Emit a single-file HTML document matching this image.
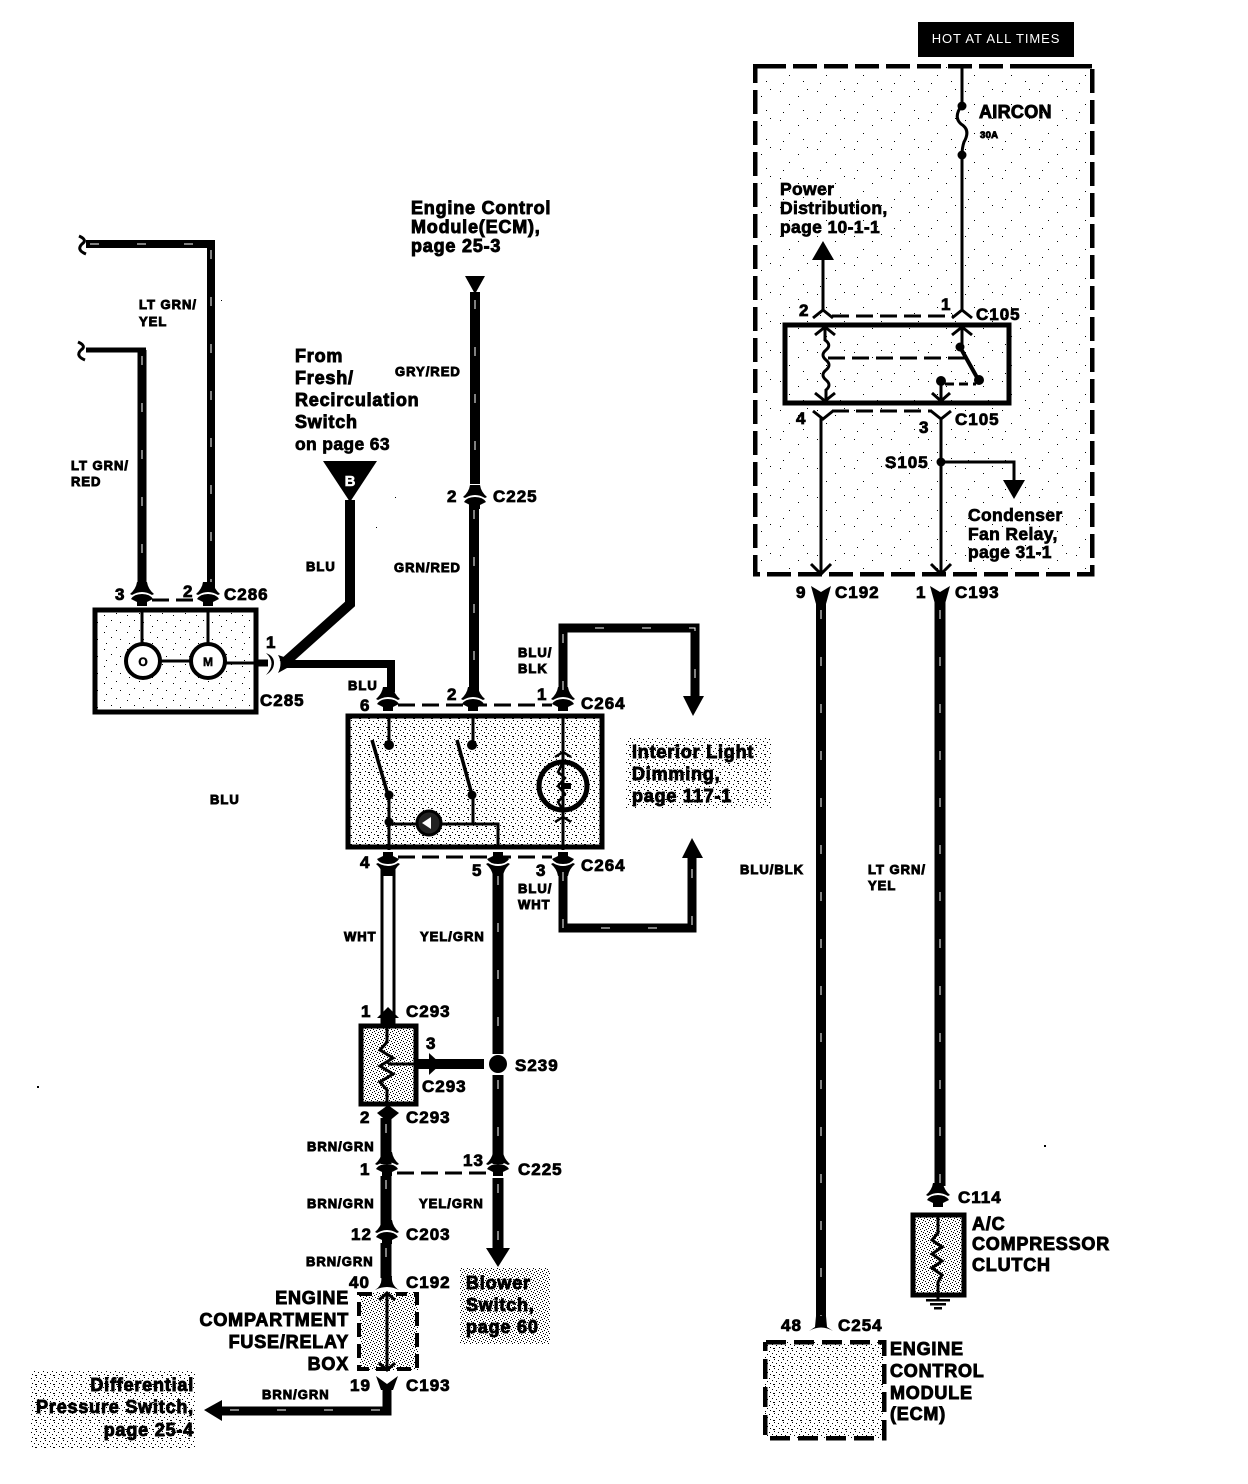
<!DOCTYPE html>
<html><head><meta charset="utf-8"><style>
html,body{margin:0;padding:0;background:#fff}
svg{display:block}
text{font-family:"Liberation Sans",sans-serif;font-weight:bold;fill:#000;stroke:#000;stroke-width:.5px}
.l{font-size:18px;letter-spacing:.8px;stroke-width:.9px}
.m{font-size:17.5px;letter-spacing:.35px;stroke-width:.7px}
.s{font-size:13px;letter-spacing:1px;stroke-width:.9px}
.n{font-size:17px;letter-spacing:1px;stroke-width:.8px}
.w{fill:none;stroke:#000;stroke-linejoin:miter}
.h{fill:none;stroke:#fff;stroke-width:1.2;stroke-dasharray:9 38}
.d{fill:none;stroke:#000;stroke-width:3;stroke-dasharray:17 7}
.e{text-anchor:end}
</style></head><body>
<svg width="1248" height="1484" viewBox="0 0 1248 1484" xmlns="http://www.w3.org/2000/svg" shape-rendering="crispEdges">
<defs>
<pattern id="p1" width="23" height="17" patternUnits="userSpaceOnUse"><path d="M1 1h1v1h-1zM12 3h1v1h-1zM19 8h1v1h-1zM5 10h1v1h-1zM14 14h1v1h-1z"/></pattern>
<pattern id="p2" width="9" height="9" patternUnits="userSpaceOnUse"><path d="M0 0h1v1h-1zM4 1h1v1h-1zM7 3h1v1h-1zM2 4h1v1h-1zM5 6h1v1h-1zM0 7h1v1h-1zM8 7h1v1h-1z"/></pattern>
<pattern id="p3" width="6" height="6" patternUnits="userSpaceOnUse"><path d="M0 0h1v1h-1zM3 1h1v1h-1zM5 2h1v1h-1zM1 3h1v1h-1zM4 4h1v1h-1zM2 5h1v1h-1z"/></pattern>
<pattern id="p4" width="37" height="29" patternUnits="userSpaceOnUse"><path d="M3 4h1v1h-1zM21 9h1v1h-1zM30 2h1v1h-1zM12 17h1v1h-1zM26 23h1v1h-1zM6 25h1v1h-1z"/></pattern>
<g id="c" shape-rendering="auto"><path d="M-12 -6Q-6 -11 -5 -18H5Q6 -11 12 -6L10 -5Q0 -11 -10 -5Z"/><path d="M-11 -1Q-8 -6 0 -6Q8 -6 11 -1L5 2V6H-5V2Z"/></g>
<g id="t" shape-rendering="auto"><path d="M-10 5L0 -3L10 5" fill="none" stroke="#000" stroke-width="3"/></g>
</defs>

<!-- stipple fields -->
<rect x="755" y="66" width="338" height="508" fill="url(#p4)"/>
<rect x="96" y="610" width="159" height="101" fill="url(#p1)"/>
<rect x="346" y="716" width="257" height="131" fill="url(#p2)"/>
<rect x="626" y="738" width="146" height="70" fill="url(#p2)"/>
<rect x="361" y="1024" width="56" height="79" fill="url(#p3)"/>
<rect x="360" y="1292" width="58" height="78" fill="url(#p3)"/>
<rect x="460" y="1268" width="90" height="76" fill="url(#p3)"/>
<rect x="30" y="1370" width="166" height="78" fill="url(#p2)"/>
<rect x="912" y="1213" width="53" height="82" fill="url(#p3)"/>
<rect x="765" y="1342" width="119" height="96" fill="url(#p2)"/>

<!-- left top wires -->
<path class="w" stroke-width="8" d="M86 244H211V590"/>
<path class="w" stroke-width="3" d="M79 236Q88 240 82 244Q76 250 86 254" shape-rendering="auto"/>
<path class="w" stroke-width="9" d="M142 350V590"/>
<path class="w" stroke-width="5" d="M86 350H146"/>
<path class="w" stroke-width="3" d="M78 342Q87 346 81 350Q75 356 85 360" shape-rendering="auto"/>
<path class="h" d="M211 250V590M142 356V590M90 244H205"/>
<text class="s" x="139" y="309">LT GRN/</text><text class="s" x="139" y="326">YEL</text>
<text class="s" x="71" y="470">LT GRN/</text><text class="s" x="71" y="486">RED</text>

<!-- C286 -->
<use href="#c" x="142" y="600"/><use href="#c" x="208" y="600"/>
<path class="d" d="M152 600H196"/>
<text class="n" x="115" y="600">3</text><text class="n" x="183" y="597">2</text><text class="n" x="224" y="600">C286</text>
<rect x="95" y="610" width="161" height="102" class="w" stroke-width="5"/>
<path class="w" stroke-width="3" d="M142 610V644M208 610V644M160 661H191M225 663H256"/>
<circle cx="143" cy="661" r="17" fill="#fff" stroke="#000" stroke-width="4" shape-rendering="auto"/>
<circle cx="208" cy="661" r="17" fill="#fff" stroke="#000" stroke-width="4" shape-rendering="auto"/>
<text x="143" y="666" text-anchor="middle" style="font-size:12px">O</text>
<text x="208" y="666" text-anchor="middle" style="font-size:12px">M</text>
<path class="w" stroke-width="7" d="M256 663H268"/>
<path d="M266 653Q277 663 266 675Q274 670 274 663Q274 656 266 653Z" shape-rendering="auto"/>
<path d="M278 655Q283 663 278 673L287 668V658Z" shape-rendering="auto"/>
<text class="n" x="266" y="648">1</text><text class="n" x="260" y="706">C285</text>

<!-- BLU feed -->
<path d="M323 461H377L350 502Z" shape-rendering="auto"/>
<text x="350" y="486" text-anchor="middle" style="fill:#fff;stroke:#fff;font-size:15px">B</text>
<path class="w" stroke-width="10" d="M350 500V604L283 664" shape-rendering="auto"/>
<path class="w" stroke-width="8" d="M283 664H391V692"/>
<text class="s" x="306" y="571">BLU</text><text class="s" x="348" y="690">BLU</text>
<text class="l" x="295" y="362">From</text><text class="l" x="295" y="384">Fresh/</text><text class="l" x="295" y="406">Recirculation</text><text class="l" x="295" y="428">Switch</text><text class="m" x="295" y="450">on page 63</text>
<text class="s" x="210" y="804">BLU</text>

<!-- ECM wire -->
<path d="M465 276H485L475 294Z" shape-rendering="auto"/>
<path class="w" stroke-width="10" d="M475 292V484M474 504V692"/>
<path class="h" d="M475 300V484M474 510V690"/>
<use href="#c" x="475" y="503"/>
<text class="n" x="447" y="502">2</text><text class="n" x="493" y="502">C225</text>
<text class="s" x="395" y="376">GRY/RED</text><text class="s" x="394" y="572">GRN/RED</text>
<text class="l" x="411" y="214">Engine Control</text><text class="l" x="411" y="233">Module(ECM),</text><text class="l" x="411" y="252">page 25-3</text>

<!-- switch unit -->
<use href="#c" x="388" y="705"/><use href="#c" x="473" y="705"/><use href="#c" x="563" y="705"/>
<path class="d" d="M398 705H552"/>
<text class="n" x="360" y="711">6</text><text class="n" x="447" y="700">2</text><text class="n" x="537" y="700">1</text><text class="n" x="581" y="709">C264</text>
<rect x="348" y="716" width="254" height="131" class="w" stroke-width="5"/>
<g shape-rendering="auto">
<path class="w" stroke-width="3" d="M389 716V745M473 716V745M563 716V850M389 795V850M389 824H498V847M473 795V824"/>
<path class="w" stroke-width="3.5" d="M372 740L388 795M457 740L472 795"/>
<g><circle cx="389" cy="745" r="5"/><circle cx="472" cy="745" r="5"/><circle cx="389" cy="795" r="4.5"/><circle cx="472" cy="795" r="4.5"/><circle cx="389" cy="822" r="4.5"/></g>
<circle cx="429" cy="823" r="12" fill="#222" stroke="#000" stroke-width="3"/>
<path d="M422 823L431 817V829Z" fill="#fff"/>
<circle cx="563" cy="786" r="24" fill="none" stroke="#000" stroke-width="5"/>
<path class="w" stroke-width="2.5" d="M563 762L558 772L565 778L558 786L565 794L558 802L563 810"/>
<path class="w" stroke-width="2.5" d="M555 757L563 752L571 757M555 822L563 817L571 822M563 810V817"/>
<path d="M561 783H571V789H561Z"/>
</g>
<path class="d" d="M398 857H552"/>
<g transform="translate(388 858) scale(1 -1)"><use href="#c"/></g>
<g transform="translate(498 858) scale(1 -1)"><use href="#c"/></g>
<g transform="translate(563 858) scale(1 -1)"><use href="#c"/></g>
<text class="n" x="360" y="868">4</text><text class="n" x="472" y="876">5</text><text class="n" x="536" y="876">3</text><text class="n" x="581" y="871">C264</text>

<!-- interior dimming -->
<path class="w" stroke-width="9" d="M563 692V628H695V697"/>
<path class="h" d="M563 690V628H695V695"/>
<path d="M683 696H704L693 716Z" shape-rendering="auto"/>
<path class="w" stroke-width="9" d="M563 872V928H692V856"/>
<path class="h" d="M563 872V928H692V858"/>
<path d="M682 858H703L692 838Z" shape-rendering="auto"/>
<text class="s" x="518" y="657">BLU/</text><text class="s" x="518" y="673">BLK</text>
<text class="s" x="518" y="893">BLU/</text><text class="s" x="518" y="909">WHT</text>
<text class="l" x="632" y="758">Interior Light</text><text class="l" x="632" y="780">Dimming,</text><text class="l" x="632" y="802">page 117-1</text>

<!-- WHT and YEL/GRN -->
<path class="w" stroke-width="3" d="M382 868V1028M394 868V1028"/>
<path class="w" stroke-width="11" d="M498 870V1054M498 1075V1164M498 1178V1250"/>
<path class="h" d="M498 876V1050M498 1080V1160M498 1184V1248"/>
<circle cx="498" cy="1064" r="9" shape-rendering="auto"/>
<text class="s" x="344" y="941">WHT</text><text class="s" x="420" y="941">YEL/GRN</text>
<text class="n" x="515" y="1071">S239</text>

<!-- resistor -->
<path d="M377 1018L388 1007L399 1018H393V1024H383V1018Z" shape-rendering="auto"/>
<text class="n" x="361" y="1017">1</text><text class="n" x="406" y="1017">C293</text>
<rect x="361" y="1026" width="55" height="78" class="w" stroke-width="5"/>
<path class="w" stroke-width="3" shape-rendering="auto" d="M387 1028V1042L380 1050L393 1058L380 1066L393 1074L380 1082L387 1090V1104"/>
<path class="w" stroke-width="3" d="M388 1064H416"/>
<path class="w" stroke-width="10" d="M416 1064H484"/>
<path d="M429 1053L441 1064L429 1075Z" shape-rendering="auto"/>
<text class="n" x="426" y="1049">3</text><text class="n" x="422" y="1092">C293</text>
<path d="M377 1113L388 1105L399 1113L388 1122Z" shape-rendering="auto"/>
<text class="n" x="360" y="1123">2</text><text class="n" x="406" y="1123">C293</text>

<!-- BRN/GRN -->
<path class="w" stroke-width="11" d="M386 1118V1164M386 1176V1226M386 1243V1278"/>
<path class="h" d="M386 1124V1162M386 1180V1226M386 1248V1278"/>
<use href="#c" x="387" y="1170"/><use href="#c" x="498" y="1170"/><use href="#c" x="387" y="1238"/>
<path class="d" d="M397 1173H488"/>
<text class="s" x="307" y="1151">BRN/GRN</text><text class="s" x="307" y="1208">BRN/GRN</text><text class="s" x="419" y="1208">YEL/GRN</text><text class="s" x="306" y="1266">BRN/GRN</text>
<text class="n" x="360" y="1175">1</text><text class="n" x="463" y="1166">13</text><text class="n" x="518" y="1175">C225</text>
<text class="n" x="351" y="1240">12</text><text class="n" x="406" y="1240">C203</text>
<path d="M486 1248H510L498 1267Z" shape-rendering="auto"/>
<text class="l" x="466" y="1289">Blower</text><text class="l" x="466" y="1311">Switch,</text><text class="l" x="466" y="1333">page 60</text>

<!-- fuse relay box -->
<path d="M375 1290Q383 1285 381 1276H392Q391 1285 399 1290Q387 1284 375 1290Z" shape-rendering="auto"/>
<text class="n" x="349" y="1288">40</text><text class="n" x="406" y="1288">C192</text>
<path class="w" stroke-width="4" stroke-dasharray="14 7" d="M372 1294H359V1369H417V1294H396"/>
<path class="w" stroke-width="3" d="M387 1292V1370"/>
<path class="w" stroke-width="3" shape-rendering="auto" d="M379 1300L387 1293L395 1300M379 1363L387 1370L395 1363"/>
<text class="l e" x="349" y="1304">ENGINE</text><text class="l e" x="349" y="1326">COMPARTMENT</text><text class="l e" x="349" y="1348">FUSE/RELAY</text><text class="l e" x="349" y="1370">BOX</text>
<path d="M376 1376L387 1384L398 1376L393 1390H381Z" shape-rendering="auto"/>
<text class="n" x="350" y="1391">19</text><text class="n" x="406" y="1391">C193</text>
<path class="w" stroke-width="9" d="M387 1390V1411H222"/>
<path class="h" d="M380 1410H225"/>
<path d="M204 1410L222 1400V1421Z" shape-rendering="auto"/>
<text class="s" x="262" y="1399">BRN/GRN</text>
<text class="l e" x="194" y="1391">Differential</text><text class="l e" x="194" y="1413">Pressure Switch,</text><text class="l e" x="194" y="1436">page 25-4</text>

<!-- right big dashed box -->
<rect x="918" y="22" width="156" height="35" fill="#000"/>
<text x="996" y="43" text-anchor="middle" style="fill:#fff;stroke:none;font-size:13px;letter-spacing:.9px;font-weight:normal">HOT AT ALL TIMES</text>
<path class="w" stroke-width="4.5" stroke-dasharray="24 7" d="M762 66H755V574H1092V66H1010"/>
<path class="w" stroke-width="4.5" stroke-dasharray="24 7" d="M762 66H1092"/>
<path class="w" stroke-width="3" d="M962 64V105M962 155V310"/>
<path class="w" stroke-width="3" shape-rendering="auto" d="M962 105Q953 117 961 124Q971 130 964 142Q962 148 962 155"/>
<circle cx="962" cy="106" r="4.5" shape-rendering="auto"/><circle cx="962" cy="155" r="4.5" shape-rendering="auto"/>
<text class="l" x="979" y="118" style="letter-spacing:.3px">AIRCON</text>
<text class="s" x="980" y="138" style="font-size:9.5px;letter-spacing:.3px">30A</text>
<text class="m" x="780" y="195">Power</text><text class="m" x="780" y="214">Distribution,</text><text class="m" x="780" y="233">page 10-1-1</text>
<path d="M812 260H834L823 241Z" shape-rendering="auto"/>
<path class="w" stroke-width="3" d="M823 258V310"/>
<use href="#t" x="823" y="313"/><use href="#t" x="962" y="313"/>
<path class="d" d="M832 316H953"/>
<text class="n" x="799" y="316">2</text><text class="n" x="941" y="310">1</text><text class="n" x="976" y="320">C105</text>
<rect x="785" y="325" width="224" height="78" class="w" stroke-width="5"/>
<g shape-rendering="auto">
<path class="w" stroke-width="3" d="M825 327V340Q832 345 826 350Q820 355 826 360Q832 365 826 370Q820 375 826 380Q832 385 826 390V400"/>
<path class="w" stroke-width="3" d="M815 335L825 327L835 335M815 393L825 401L835 393M952 335L962 327L972 335M932 393L941 401L950 393M962 327V345"/>
<path class="d" d="M828 358H966"/>
<path class="w" stroke-width="4" d="M960 347L979 381"/>
<circle cx="960" cy="347" r="4.5"/><circle cx="979" cy="380" r="5"/><circle cx="941" cy="381" r="5"/>
<path class="w" stroke-width="3" stroke-dasharray="9 5" d="M945 384H976"/>
<path class="w" stroke-width="3" d="M941 382V400"/>
</g>
<g transform="translate(823 416) scale(1 -1)"><use href="#t"/></g>
<g transform="translate(941 416) scale(1 -1)"><use href="#t"/></g>
<path class="d" d="M832 411H932"/>
<text class="n" x="796" y="424">4</text><text class="n" x="919" y="433">3</text><text class="n" x="955" y="425">C105</text>
<path class="w" stroke-width="3" d="M821 418V572M941 418V572"/>
<circle cx="941" cy="462" r="4.5" shape-rendering="auto"/>
<path class="w" stroke-width="3" d="M941 462H1014V482"/>
<path d="M1003 480H1025L1014 499Z" shape-rendering="auto"/>
<text class="n" x="885" y="468">S105</text>
<text class="m" x="968" y="521">Condenser</text><text class="m" x="968" y="540">Fan Relay,</text><text class="m" x="968" y="558">page 31-1</text>
<path class="w" stroke-width="3" shape-rendering="auto" d="M811 564L821 574L831 564M931 564L941 574L951 564"/>

<!-- long wires -->
<path d="M811 586L821 592L831 586L826 604H816Z" shape-rendering="auto"/>
<path d="M930 586L940 592L950 586L945 604H935Z" shape-rendering="auto"/>
<text class="n" x="796" y="598">9</text><text class="n" x="835" y="598">C192</text>
<text class="n" x="916" y="598">1</text><text class="n" x="955" y="598">C193</text>
<path class="w" stroke-width="10" d="M821 600V1320"/>
<path class="w" stroke-width="11" d="M940 600V1186"/>
<path class="h" d="M821 610V1318M940 610V1184"/>
<text class="s" x="740" y="874">BLU/BLK</text>
<text class="s" x="868" y="874">LT GRN/</text><text class="s" x="868" y="890">YEL</text>

<!-- compressor -->
<use href="#c" x="938" y="1201"/>
<text class="n" x="958" y="1203">C114</text>
<rect x="913" y="1215" width="51" height="80" class="w" stroke-width="5"/>
<path class="w" stroke-width="3" shape-rendering="auto" d="M938 1215V1233L932 1240L942 1247L932 1254L942 1261L932 1268L942 1275L938 1282V1300"/>
<path class="w" stroke-width="2.5" d="M926 1300H950M930 1304H946M934 1308H942"/>
<text class="l" x="972" y="1230">A/C</text><text class="l" x="972" y="1250">COMPRESSOR</text><text class="l" x="972" y="1271">CLUTCH</text>

<!-- ECM bottom -->
<path d="M809 1331L815 1327L816 1316H826L827 1327L833 1331Q821 1324 809 1331Z" shape-rendering="auto"/>
<text class="n" x="781" y="1331">48</text><text class="n" x="838" y="1331">C254</text>
<path class="w" stroke-width="4.5" stroke-dasharray="20 8" d="M766 1342H884V1438H765V1342"/>
<text class="l" x="890" y="1355">ENGINE</text><text class="l" x="890" y="1377">CONTROL</text><text class="l" x="890" y="1399">MODULE</text><text class="l" x="890" y="1420">(ECM)</text>

<!-- specks -->
<path d="M37 1086h2v2h-2zM1044 1145h2v2h-2zM221 300h1v1h-1zM395 497h1v1h-1zM376 527h1v1h-1z"/>
</svg>
</body></html>
